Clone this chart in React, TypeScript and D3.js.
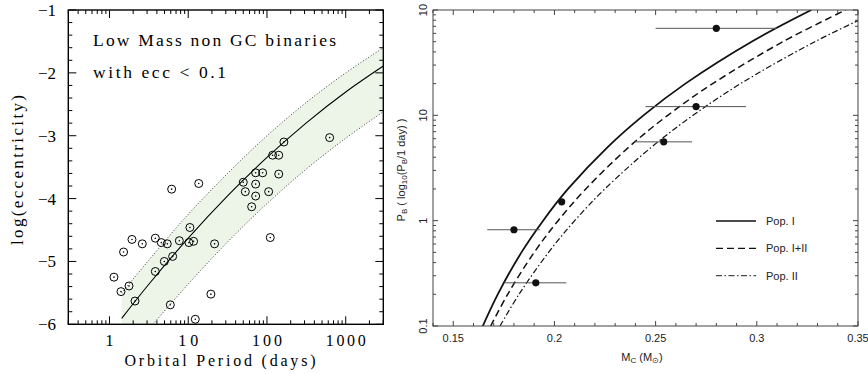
import React from "react";
import * as d3 from "d3";

// ---- left panel data (orbital period in days, log eccentricity) ----
const binPeriod = [1.14, 1.4, 1.51, 1.77, 1.93, 2.11, 2.61, 3.82, 3.82, 4.55, 4.97, 5.42, 5.92, 6.16, 6.34, 7.71, 10.2, 10.5, 11.7, 12.3, 13.6, 19.4, 21.6, 50.0, 53.1, 63.9, 71.8, 71.8, 71.8, 88.1, 105, 110, 118, 141, 141, 164, 625];
const binLogEcc = [-5.25, -5.48, -4.85, -5.39, -4.65, -5.63, -4.72, -4.63, -5.16, -4.7, -5.0, -4.72, -5.69, -3.85, -4.92, -4.67, -4.7, -4.46, -4.68, -5.92, -3.76, -5.52, -4.72, -3.74, -3.89, -4.13, -3.59, -3.77, -3.96, -3.59, -3.89, -4.62, -3.31, -3.31, -3.61, -3.1, -3.03];

const fitPeriod = [1.43, 3.16, 10, 31.6, 100, 316, 1000, 3000];
const fitLogEcc = [-5.905, -5.363, -4.63, -3.958, -3.346, -2.795, -2.304, -1.891];
const upperPeriod = [1.43, 3.16, 10, 31.6, 100, 316, 1000, 3000];
const upperLogEcc = [-5.5, -4.98, -4.25, -3.6, -3.0, -2.47, -2.0, -1.6];
const lowerPeriod = [3.55, 10, 31.6, 100, 316, 1000, 3000];
const lowerLogEcc = [-6.0, -5.36, -4.69, -4.08, -3.53, -3.04, -2.62];
const bandCorner = [1.43, -6.0];

const leftXTickLabels = ["1", "10", "100", "1000"];
const leftYTickLabels = ["\u22121", "\u22122", "\u22123", "\u22124", "\u22125", "\u22126"];

// ---- right panel data (core mass, orbital period in days) ----
const psrMass = [0.28, 0.27, 0.254, 0.2036, 0.18, 0.1908];
const psrMassLo = [0.25, 0.245, 0.24, null, 0.1668, 0.1753];
const psrMassHi = [0.31, 0.2947, 0.268, null, 0.1928, 0.2059];
const psrPeriod = [67, 12.1, 5.6, 1.51, 0.82, 0.257];

const curvePeriod = [0.1, 0.2, 0.5, 1, 2, 5, 10, 20, 50, 100];
const popIMass = [0.1646, 0.172, 0.1837, 0.1944, 0.2067, 0.2263, 0.244, 0.2647, 0.2974, 0.3269];
const popIIIMass = [0.1685, 0.1769, 0.19, 0.2018, 0.2155, 0.2368, 0.256, 0.2782, 0.3129, 0.3439];
const popIIMass = [0.1731, 0.1825, 0.1971, 0.21, 0.2249, 0.248, 0.2685, 0.292, 0.3287, 0.3612];

const rightXTickLabels = ["0.15", "0.2", "0.25", "0.3", "0.35"];
const rightYTickLabels = ["0.1", "1", "10", "10"];
const legendNames = ["Pop. I", "Pop. I+II", "Pop. II"];

const serif = "'Liberation Serif', 'DejaVu Serif', serif";
const sans = "'Liberation Sans', Arial, sans-serif";

function LeftPanel() {
  const x = d3.scaleLog().domain([0.3, 3000]).range([68.3, 383.3]);
  const y = d3.scaleLinear().domain([-6, -1]).range([324.3, 10]);
  const [x0, x1] = x.range();
  const [y0, y1] = y.range();

  const curve = d3.line<[number, number]>().x(d => x(d[0])).y(d => y(d[1])).curve(d3.curveCatmullRom);
  const fit = fitPeriod.map((p, i) => [p, fitLogEcc[i]] as [number, number]);
  const upper = upperPeriod.map((p, i) => [p, upperLogEcc[i]] as [number, number]);
  const lower = lowerPeriod.map((p, i) => [p, lowerLogEcc[i]] as [number, number]);
  const bandD = curve(upper)! + curve([...lower].reverse())!.replace(/^M/, "L") +
    `L${x(bandCorner[0])},${y(bandCorner[1])}Z`;

  const xTicks: { v: number; major: boolean }[] = [];
  for (let k = -1; k <= 3; k++) {
    for (let m = 1; m <= 9; m++) {
      const v = m * Math.pow(10, k);
      if (v >= 0.3 && v <= 3000) xTicks.push({ v, major: m === 1 });
    }
  }
  const yTicks = d3.range(0, 26).map(i => ({ v: -6 + i * 0.2, major: i % 5 === 0 }));

  return (
    <g>
      <defs>
        <clipPath id="leftClip"><rect x={x0} y={y1} width={x1 - x0} height={y0 - y1} /></clipPath>
      </defs>
      <g clipPath="url(#leftClip)">
        <path d={bandD} fill="#edf5e9" stroke="none" />
        <path d={curve(upper)!} fill="none" stroke="#222" strokeWidth={0.9} strokeDasharray="1,2" />
        <path d={curve(lower)!} fill="none" stroke="#222" strokeWidth={0.9} strokeDasharray="1,2" />
        <path d={curve(fit)!} fill="none" stroke="#000" strokeWidth={1.1} />
        {binPeriod.map((p, i) => (
          <g key={i}>
            <circle cx={x(p)} cy={y(binLogEcc[i])} r={4} fill="none" stroke="#000" strokeWidth={1} />
            <circle cx={x(p)} cy={y(binLogEcc[i])} r={0.8} fill="#000" />
          </g>
        ))}
      </g>
      {xTicks.map((t, i) => {
        const len = t.major ? 8 : 4;
        return (
          <g key={i} stroke="#000" strokeWidth={1}>
            <line x1={x(t.v)} x2={x(t.v)} y1={y0} y2={y0 - len} />
            <line x1={x(t.v)} x2={x(t.v)} y1={y1} y2={y1 + len} />
          </g>
        );
      })}
      {yTicks.map((t, i) => {
        const len = t.major ? 8 : 4;
        return (
          <g key={i} stroke="#000" strokeWidth={1}>
            <line x1={x0} x2={x0 + len} y1={y(t.v)} y2={y(t.v)} />
            <line x1={x1} x2={x1 - len} y1={y(t.v)} y2={y(t.v)} />
          </g>
        );
      })}
      <rect x={x0} y={y1} width={x1 - x0} height={y0 - y1} fill="none" stroke="#000" strokeWidth={1.4} />
      {leftXTickLabels.map((s, i) => (
        <text key={s} x={x(Math.pow(10, i))} y={346} textAnchor="middle" fontFamily={serif} fontSize={16} textLength={s.length * 10} lengthAdjust="spacing">{s}</text>
      ))}
      {leftYTickLabels.map((s, i) => (
        <text key={s} x={56} y={y(-1 - i) + 6} textAnchor="end" fontFamily={serif} fontSize={17}>{s}</text>
      ))}
      <text x={220} y={366} textAnchor="middle" fontFamily={serif} fontSize={16} textLength={191} lengthAdjust="spacing">Orbital Period (days)</text>
      <text transform="translate(23,170) rotate(-90)" textAnchor="middle" fontFamily={serif} fontSize={17} textLength={150} lengthAdjust="spacing">log(eccentricity)</text>
      <text x={93} y={46} fontFamily={serif} fontSize={17.5} textLength={243} lengthAdjust="spacing">Low Mass non GC binaries</text>
      <text x={93} y={78} fontFamily={serif} fontSize={17.5} textLength={133} lengthAdjust="spacing">with ecc &lt; 0.1</text>
    </g>
  );
}

function RightPanel() {
  const x = d3.scaleLinear().domain([0.14, 0.35]).range([433, 858]);
  const y = d3.scaleLog().domain([0.1, 100]).range([326, 10]);
  const [x0, x1] = x.range();
  const [y0, y1] = y.range();

  const line = d3.line<number>().curve(d3.curveCatmullRom);
  const mk = (masses: number[]) => line.x(m => x(m)).y((_, i) => y(curvePeriod[i]))(masses)!;

  const xTicks = d3.range(0, 22).map(i => {
    const v = 0.14 + i * 0.01;
    return { v, major: i % 5 === 1 };
  });
  const yTicks: { v: number; major: boolean }[] = [];
  for (let k = -1; k <= 2; k++) {
    for (let m = 1; m <= 9; m++) {
      const v = m * Math.pow(10, k);
      if (v <= 100) yTicks.push({ v, major: m === 1 });
    }
  }

  const styles = [
    { w: 1.8, dash: undefined },
    { w: 1.5, dash: "7,4" },
    { w: 1.2, dash: "6,2.5,1.5,2.5" },
  ];
  const masses = [popIMass, popIIIMass, popIIMass];
  const legendY = [221, 248.3, 275.7];

  return (
    <g>
      <defs>
        <clipPath id="rightClip"><rect x={x0} y={y1} width={x1 - x0} height={y0 - y1} /></clipPath>
      </defs>
      <g clipPath="url(#rightClip)">
        {masses.map((ms, i) => (
          <path key={i} d={mk(ms)} fill="none" stroke="#111" strokeWidth={styles[i].w} strokeDasharray={styles[i].dash} />
        ))}
        {psrMass.map((m, i) => (
          <g key={i}>
            {psrMassLo[i] !== null && (
              <line x1={x(psrMassLo[i] as number)} x2={x(psrMassHi[i] as number)} y1={y(psrPeriod[i])} y2={y(psrPeriod[i])} stroke="#555" strokeWidth={1} />
            )}
            <circle cx={x(m)} cy={y(psrPeriod[i])} r={3.6} fill="#111" />
          </g>
        ))}
      </g>
      {xTicks.map((t, i) => {
        const len = t.major ? 5 : 3;
        return (
          <g key={i} stroke="#444" strokeWidth={1}>
            <line x1={x(t.v)} x2={x(t.v)} y1={y0} y2={y0 - len} />
            <line x1={x(t.v)} x2={x(t.v)} y1={y1} y2={y1 + len} />
          </g>
        );
      })}
      {yTicks.map((t, i) => {
        const len = t.major ? 5 : 3;
        return (
          <g key={i} stroke="#444" strokeWidth={1}>
            <line x1={x0} x2={x0 + len} y1={y(t.v)} y2={y(t.v)} />
            <line x1={x1} x2={x1 - len} y1={y(t.v)} y2={y(t.v)} />
          </g>
        );
      })}
      <rect x={x0} y={y1} width={x1 - x0} height={y0 - y1} fill="none" stroke="#444" strokeWidth={1} />
      {rightXTickLabels.map((s, i) => (
        <text key={s} x={x(0.15 + i * 0.05)} y={342} textAnchor="middle" fontFamily={sans} fontSize={11} fill="#222">{s}</text>
      ))}
      {rightYTickLabels.map((s, i) => (
        <text key={i} transform={`translate(427,${y(Math.pow(10, i - 1))}) rotate(-90)`} textAnchor="middle" fontFamily={sans} fontSize={11} fill="#222">{s}</text>
      ))}
      <text x={642} y={361} textAnchor="middle" fontFamily={sans} fontSize={11} fill="#222">
        M<tspan fontSize={8} dy={2}>C</tspan><tspan dy={-2}> (M</tspan><tspan fontSize={8} dy={2}>{"\u2299"}</tspan><tspan dy={-2}>)</tspan>
      </text>
      <text transform="translate(405,170) rotate(-90)" textAnchor="middle" fontFamily={sans} fontSize={11} fill="#222">
        P<tspan fontSize={8} dy={2}>B</tspan><tspan dy={-2}> (  log</tspan><tspan fontSize={8} dy={2}>10</tspan><tspan dy={-2}>(P</tspan><tspan fontSize={8} dy={2}>B</tspan><tspan dy={-2}>/1  day)  )</tspan>
      </text>
      {legendNames.map((name, i) => (
        <g key={name}>
          <line x1={716} x2={756} y1={legendY[i]} y2={legendY[i]} stroke="#111" strokeWidth={styles[i].w * 0.8} strokeDasharray={styles[i].dash} />
          <text x={766} y={legendY[i] + 4} fontFamily={sans} fontSize={11} fill="#222">{name}</text>
        </g>
      ))}
    </g>
  );
}

export default function App() {
  return (
    <svg width={868} height={374} style={{ position: "absolute", left: 0, top: 0, background: "#fff" }}>
      <LeftPanel />
      <RightPanel />
    </svg>
  );
}
